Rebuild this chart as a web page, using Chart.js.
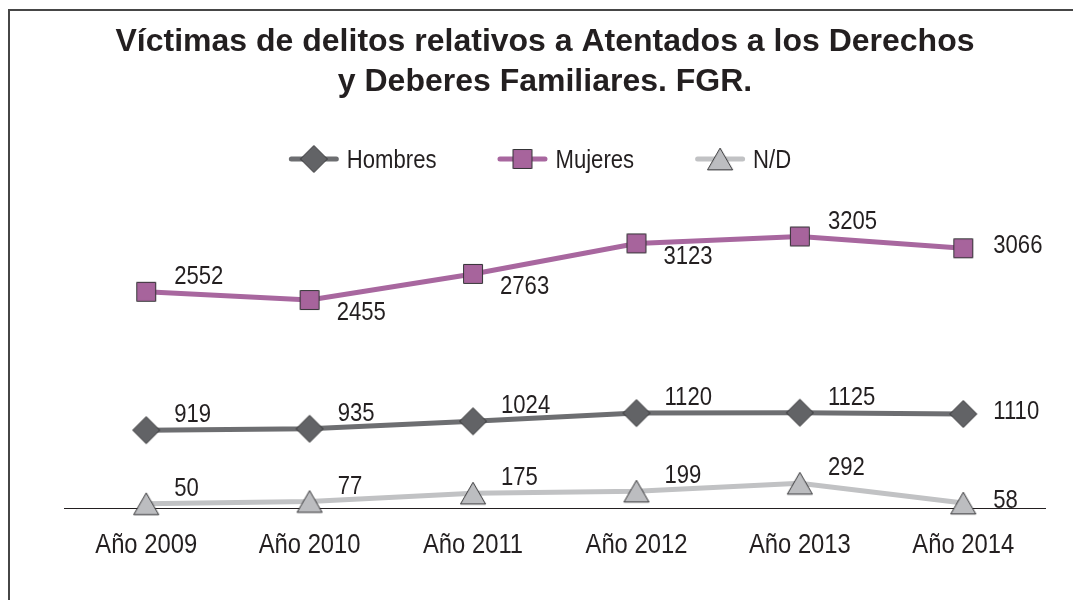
<!DOCTYPE html>
<html>
<head>
<meta charset="utf-8">
<title>Víctimas de delitos relativos a Atentados a los Derechos y Deberes Familiares</title>
<script src="https://cdn.jsdelivr.net/npm/chart.js@4/dist/chart.umd.min.js"></script>
<style>
  html, body { margin: 0; padding: 0; background: #fff; overflow: hidden; }
  #frame {
    position: absolute; left: 8px; top: 9px;
    width: 1070px; height: 600px;
    border: 2px solid #464646; border-bottom: none;
  }
  canvas { display: block; }
</style>
</head>
<body>
<div id="frame"><canvas id="victimasChart" width="1070" height="589"></canvas></div>
<script>
// Datos FGR 2009-2014
const years = ['Año 2009', 'Año 2010', 'Año 2011', 'Año 2012', 'Año 2013', 'Año 2014'];
const hombres = [919, 935, 1024, 1120, 1125, 1110];
const mujeres = [2552, 2455, 2763, 3123, 3205, 3066];
const noDefinido = [50, 77, 175, 199, 292, 58];

// lado de cada etiqueta respecto a su punto
const hombresLabelPos = ['above', 'above', 'above', 'above', 'above', 'right'];
const mujeresLabelPos = ['above', 'below', 'below', 'below', 'above', 'right'];
const ndLabelPos = ['above', 'above', 'above', 'above', 'above', 'right'];

const labelOffsets = {
  above: { dx: 28, dy: -15 },
  below: { dx: 27, dy: 13 },
  right: { dx: 30, dy: -2 }
};

const FONT = '"Liberation Sans", Arial, sans-serif';
const TEXT = '#231f20';
const NARROW = 0.85;   // texto condensado (estilo Helvetica Narrow)

Chart.defaults.font.family = FONT;
Chart.defaults.color = TEXT;

function condensedText(ctx, text, x, y, size, align) {
  ctx.save();
  ctx.font = size + 'px ' + FONT;
  ctx.fillStyle = TEXT;
  ctx.textAlign = align;
  ctx.textBaseline = 'middle';
  ctx.translate(x, y);
  ctx.scale(NARROW, 1);
  ctx.fillText(text, 0, 0);
  ctx.restore();
}

// Marcador dibujado en un canvas aparte (el triangulo se centra por su caja)
function makeMarker(style, radius, fill, shiftY) {
  const size = 34;
  const c = document.createElement('canvas');
  c.width = size;
  c.height = size;
  const g = c.getContext('2d');
  g.fillStyle = fill;
  g.strokeStyle = '#333335';
  g.lineWidth = 1;
  Chart.helpers.drawPoint(g, { pointStyle: style, radius: radius, rotation: 0, borderWidth: 1 }, size / 2, size / 2 + shiftY);
  return c;
}

const markerHombres = makeMarker('rectRot', 13.5, '#626366', 0);
const markerMujeres = makeMarker('rect', 13.4, '#a7649c', 0);
const markerND = makeMarker('triangle', 14.5, '#bcbdc0', 14.5 / 4);

// Etiquetas de valor junto a cada punto
const valueLabels = {
  id: 'valueLabels',
  afterDatasetsDraw(chart, args, opts) {
    const ctx = chart.ctx;
    chart.data.datasets.forEach((ds, i) => {
      chart.getDatasetMeta(i).data.forEach((pt, j) => {
        const off = labelOffsets[ds.labelPos[j]];
        condensedText(ctx, String(ds.data[j]), pt.x + off.dx, pt.y + off.dy, opts.size, 'left');
      });
    });
  }
};

// Rotulos del eje X en la posicion de cada categoria
const xLabels = {
  id: 'xLabels',
  afterDraw(chart, args, opts) {
    const xs = chart.scales.x;
    xs.ticks.forEach((t, i) => {
      condensedText(chart.ctx, xs.getLabelForValue(t.value), xs.getPixelForTick(i), xs.top + opts.offset, opts.size, 'center');
    });
  }
};

// Leyenda con linea + marcador
const lineLegend = {
  id: 'lineLegend',
  afterDraw(chart, args, opts) {
    const ctx = chart.ctx;
    ctx.save();
    ctx.font = opts.size + 'px ' + FONT;
    const items = chart.data.datasets.map(ds => ({ ds: ds, textW: ctx.measureText(ds.label).width * NARROW }));
    const total = items.reduce((s, it) => s + opts.lineLength + opts.textGap + it.textW, 0) +
      opts.itemGap * (items.length - 1);
    let x = opts.centerX - total / 2;
    items.forEach(({ ds, textW }) => {
      ctx.strokeStyle = ds.borderColor;
      ctx.lineWidth = ds.borderWidth;
      ctx.lineCap = 'round';
      ctx.beginPath();
      ctx.moveTo(x + 2.5, opts.y);
      ctx.lineTo(x + opts.lineLength - 2.5, opts.y);
      ctx.stroke();
      Chart.helpers.drawPoint(ctx, { pointStyle: ds.pointStyle, radius: 14, rotation: 0 }, x + opts.lineLength / 2, opts.y);
      condensedText(ctx, ds.label, x + opts.lineLength + opts.textGap, opts.y + 2, opts.size, 'left');
      x += opts.lineLength + opts.textGap + textW + opts.itemGap;
    });
    ctx.restore();
  }
};

const ctx = document.getElementById('victimasChart').getContext('2d');
new Chart(ctx, {
  type: 'line',
  data: {
    labels: years,
    datasets: [
      {
        label: 'Hombres',
        data: hombres,
        borderColor: '#6d6e71',
        borderWidth: 5,
        pointStyle: markerHombres,
        pointRadius: 13,
        clip: false,
        labelPos: hombresLabelPos
      },
      {
        label: 'Mujeres',
        data: mujeres,
        borderColor: '#a8679f',
        borderWidth: 5,
        pointStyle: markerMujeres,
        pointRadius: 13,
        clip: false,
        labelPos: mujeresLabelPos
      },
      {
        label: 'N/D',
        data: noDefinido,
        borderColor: '#c1c2c4',
        borderWidth: 5,
        pointStyle: markerND,
        pointRadius: 13,
        clip: false,
        labelPos: ndLabelPos
      }
    ]
  },
  options: {
    responsive: false,
    animation: false,
    layout: { padding: { top: 0, left: 35, right: 35, bottom: 92 } },
    plugins: {
      legend: { display: false },
      tooltip: { enabled: false },
      title: {
        display: true,
        text: ['Víctimas de delitos relativos a Atentados a los Derechos', 'y Deberes Familiares. FGR.'],
        color: TEXT,
        font: { size: 32, weight: 'bold', lineHeight: 1.25 },
        padding: { top: 11, bottom: 109.5 }
      },
      valueLabels: { size: 26 },
      xLabels: { size: 28, offset: 37 },
      lineLegend: { centerX: 530, y: 148, size: 26, lineLength: 50, textGap: 8, itemGap: 61 }
    },
    scales: {
      x: {
        offset: true,
        grid: { display: false, drawTicks: false },
        border: { display: true, color: TEXT, width: 1 },
        ticks: { display: false }
      },
      y: {
        min: 0,
        max: 3500,
        grid: { display: false, drawTicks: false },
        border: { display: false },
        ticks: { display: false },
        afterFit(scale) { scale.width = 19.5; }
      }
    }
  },
  plugins: [valueLabels, xLabels, lineLegend]
});
</script>
</body>
</html>
